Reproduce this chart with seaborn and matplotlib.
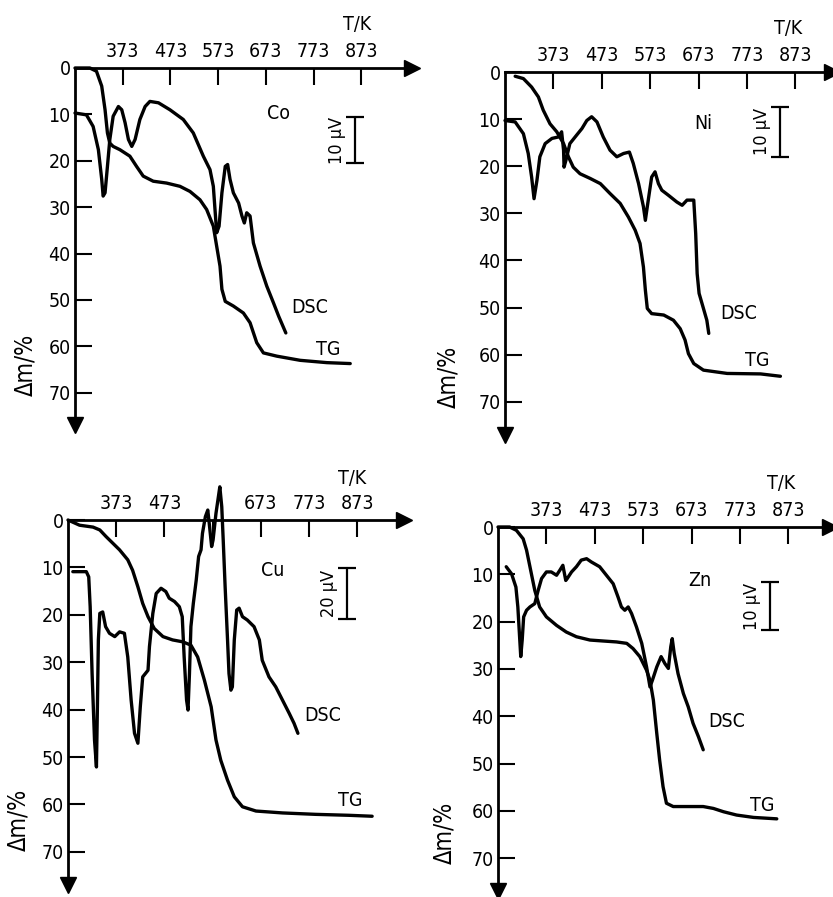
import matplotlib
matplotlib.use('Agg')
import matplotlib.pyplot as plt
import seaborn as sns

# ---- data (T in K, TG as mass loss in %, DSC in same y-units) ----
temp_ticks = [373, 473, 573, 673, 773, 873]
dm_ticks = [0, 10, 20, 30, 40, 50, 60, 70]

# Co
co_tg_T = [273, 304, 318, 329, 336, 341, 346, 353, 367, 388, 402, 416, 437, 465, 493, 514, 535, 549,
           563, 570, 577, 581, 588, 605, 626, 640, 654, 668, 696, 745, 801, 850]
co_tg_dm = [0, 0, 0.7, 3.9, 9.0, 14.0, 16.2, 16.9, 17.6, 19.0, 21.2, 23.3, 24.4, 24.8, 25.5, 26.6, 28.4, 30.5,
            34.1, 38.4, 42.7, 47.7, 50.3, 51.3, 52.8, 54.9, 59.2, 61.4, 62.1, 63.0, 63.5, 63.7]
co_dsc_T = [273, 297, 311, 322, 329, 332, 336, 341, 346, 353, 364, 371, 378, 385, 392, 399, 409, 420, 430,
            448, 472, 500, 521, 542, 556, 563, 567, 570, 575, 581, 588, 593, 598, 605, 616, 623, 628, 633,
            640, 647, 661, 675, 689, 700, 715]
co_dsc = [9.7, 10.1, 12.6, 17.6, 24.0, 27.6, 26.9, 21.2, 15.4, 10.4, 8.3, 9.0, 11.8, 15.4, 16.9, 15.4, 11.1,
          8.3, 7.2, 7.5, 9.0, 11.1, 14.0, 19.0, 21.9, 25.5, 31.2, 35.5, 34.1, 26.9, 21.2, 20.8, 24.0, 26.9,
          29.1, 31.9, 33.4, 31.2, 31.9, 37.7, 42.7, 47.0, 50.6, 53.5, 57.1]

# Ni
ni_tg_T = [294, 311, 328, 342, 352, 366, 380, 394, 404, 414, 428, 449, 470, 490, 511, 528, 542, 552, 559,
           563, 567, 576, 601, 621, 635, 645, 652, 663, 683, 732, 801, 842]
ni_tg_dm = [0.9, 1.4, 3.2, 5.3, 8.1, 11.0, 12.7, 15.2, 18.0, 20.2, 21.6, 22.6, 23.7, 25.8, 27.9, 30.8, 33.6,
            36.4, 41.4, 46.3, 50.2, 51.3, 51.6, 52.7, 54.5, 56.9, 59.8, 61.9, 63.3, 64.0, 64.1, 64.6]
ni_dsc_T = [273, 294, 311, 321, 328, 333, 339, 345, 356, 370, 383, 390, 394, 395, 399, 407, 421, 432, 442,
            452, 463, 476, 490, 504, 518, 530, 538, 549, 559, 563, 567, 576, 583, 590, 597, 611, 628, 639,
            649, 663, 667, 670, 674, 683, 690, 694]
ni_dsc = [10.3, 10.6, 13.1, 17.3, 22.3, 26.9, 23.0, 18.0, 15.2, 14.1, 13.8, 12.7, 16.6, 20.2, 18.7, 15.2,
          13.4, 12.0, 10.3, 9.5, 10.6, 13.8, 16.6, 18.0, 17.3, 17.0, 19.4, 23.7, 28.6, 31.5, 28.6, 22.3,
          21.2, 23.7, 25.1, 26.2, 27.6, 28.3, 27.2, 27.2, 34.3, 42.8, 47.0, 50.2, 52.7, 55.5]

# Cu
cu_tg_T = [273, 297, 325, 339, 352, 366, 380, 397, 407, 418, 428, 439, 452, 470, 490, 511, 528, 542, 556,
           570, 580, 590, 604, 618, 635, 663, 718, 787, 856, 904]
cu_tg_dm = [0, 1.1, 1.5, 2.1, 3.5, 4.9, 6.3, 8.4, 10.6, 14.1, 17.6, 20.4, 22.9, 24.6, 25.3, 25.7, 26.4,
            28.9, 33.8, 39.4, 46.4, 50.7, 54.9, 58.4, 60.5, 61.4, 61.8, 62.1, 62.3, 62.5]
cu_dsc_T = [283, 311, 316, 319, 323, 328, 332, 334, 336, 339, 345, 351, 359, 370, 380, 390, 397, 404, 411,
            418, 423, 428, 439, 442, 449, 456, 466, 476, 483, 494, 504, 510, 514, 519, 522, 525, 528, 533,
            539, 544, 549, 552, 558, 563, 566, 571, 574, 580, 585, 588, 592, 595, 599, 604, 607, 611, 614,
            618, 623, 628, 635, 645, 659, 670, 676, 690, 704, 718, 732, 742, 750]
cu_dsc = [10.9, 10.9, 12.0, 18.3, 32.4, 46.4, 52.1, 39.4, 25.3, 19.7, 19.4, 22.5, 23.9, 24.6, 23.6, 23.9,
          28.9, 38.0, 45.0, 47.1, 39.4, 33.1, 31.7, 26.7, 19.7, 15.5, 14.4, 15.1, 16.5, 17.2, 18.3, 20.4,
          28.9, 38.0, 40.1, 32.4, 22.5, 17.6, 12.7, 7.7, 6.3, 2.8, -0.7, -2.1, 0.7, 5.6, 4.2, -1.4, -4.9,
          -7.0, -2.8, 4.2, 14.1, 25.3, 32.4, 35.9, 35.2, 25.3, 19.0, 18.6, 20.4, 21.1, 22.5, 25.3, 29.6,
          33.1, 35.2, 38.0, 40.8, 42.9, 45.0]

# Zn
zn_tg_T = [273, 297, 311, 325, 332, 339, 349, 359, 373, 394, 414, 435, 463, 490, 518, 539, 552, 566, 580,
           587, 594, 601, 607, 614, 621, 635, 663, 697, 718, 739, 766, 801, 849]
zn_tg_dm = [0, 0, 0.7, 2.5, 4.9, 8.4, 13.4, 16.9, 19.0, 20.8, 22.2, 23.2, 23.9, 24.1, 24.3, 24.6, 25.7,
            27.4, 30.3, 32.4, 36.6, 43.6, 49.3, 54.9, 58.4, 59.1, 59.1, 59.1, 59.5, 60.2, 60.9, 61.4, 61.7]
zn_dsc_T = [290, 301, 310, 314, 318, 320, 323, 326, 332, 339, 349, 356, 363, 373, 383, 394, 401, 407, 413,
            416, 425, 435, 445, 456, 466, 483, 497, 511, 521, 528, 535, 542, 549, 559, 570, 580, 587, 592,
            601, 610, 618, 625, 630, 633, 637, 645, 656, 666, 676, 687, 697]
zn_dsc = [8.4, 9.9, 12.7, 16.9, 23.9, 27.4, 23.9, 19.0, 17.6, 16.9, 16.2, 13.4, 10.9, 9.5, 9.5, 10.2, 9.1,
          8.1, 11.3, 10.9, 9.5, 8.4, 7.0, 6.7, 7.4, 8.4, 10.2, 12.0, 14.8, 16.9, 17.6, 16.9, 18.3, 21.1,
          24.6, 29.6, 33.8, 32.4, 29.6, 27.4, 28.9, 29.9, 25.3, 23.6, 26.7, 31.0, 35.2, 38.0, 41.5, 44.3, 47.1]

metals = ['Co', 'Ni', 'Cu', 'Zn']
scale_bars = ['10 µV', '10 µV', '20 µV', '10 µV']

# ---- drawing ----
sns.set_style('white')
plt.rcParams['font.family'] = ['DejaVu Sans']
plt.rcParams['font.stretch'] = 'condensed'
plt.rcParams['text.color'] = 'k'
plt.rcParams['xtick.color'] = 'k'
plt.rcParams['ytick.color'] = 'k'

W, H = 833, 897
fig = plt.figure(figsize=(W / 100, H / 100), dpi=100)

T0, T1 = 150, 990
Y0, Y1 = -12, 80
FS = 14
LW = 2.4


def panel(origin, kx, ky, tg, dsc, metal, bar_text, xend, yend, lab):
    ox, oy = origin
    left = ox - (273 - T0) * kx
    top = oy + Y0 * ky
    w = (T1 - T0) * kx
    h = (Y1 - Y0) * ky
    ax = fig.add_axes([left / W, 1 - (top + h) / H, w / W, h / H])
    ax.set_xlim(T0, T1)
    ax.set_ylim(Y1, Y0)
    ax.patch.set_alpha(0)

    for xs, ys in (tg, dsc):
        sns.lineplot(x=xs, y=ys, ax=ax, sort=False, estimator=None, color='k', lw=LW,
                     solid_joinstyle='round', solid_capstyle='round')

    for s in ['right', 'bottom']:
        ax.spines[s].set_visible(False)
    ax.spines['left'].set_position(('data', 273))
    ax.spines['left'].set_bounds(0, yend)
    ax.spines['top'].set_position(('data', 0))
    ax.spines['top'].set_bounds(273, xend)
    for s in ['left', 'top']:
        ax.spines[s].set_linewidth(2)
        ax.spines[s].set_color('k')
    ax.plot(xend, 0, marker='>', ms=11, color='k', clip_on=False)
    ax.plot(273, yend, marker='v', ms=11, color='k', clip_on=False)

    ax.xaxis.set_ticks_position('top')
    ax.yaxis.set_ticks_position('left')
    ax.set_xticks(temp_ticks)
    ax.set_xticklabels([str(t) if not (metal == 'Cu' and t == 573) else '' for t in temp_ticks])
    ax.set_yticks(dm_ticks)
    ax.set_yticklabels([str(v) for v in dm_ticks])
    ax.tick_params(axis='x', direction='in', length=12, width=1.5, pad=5, labelsize=FS)
    ax.tick_params(axis='y', direction='in', length=12, width=1.5, pad=3, labelsize=FS)
    ax.set_xlabel('')
    ax.set_ylabel('')

    ax.text(lab['tk'][0], lab['tk'][1], 'T/K', fontsize=FS, ha='center', va='center')
    ax.text(lab['m'][0], lab['m'][1], metal, fontsize=FS, ha='center', va='center')
    ax.text(lab['dsc'][0], lab['dsc'][1], 'DSC', fontsize=FS, ha='center', va='center')
    ax.text(lab['tg'][0], lab['tg'][1], 'TG', fontsize=FS, ha='center', va='center')
    ax.text(lab['yl'][0], lab['yl'][1], 'Δm/%', fontsize=FS + 3, ha='center', va='center', rotation=90)

    bx, b0, b1 = lab['bar']
    ax.plot([bx, bx], [b0, b1], color='k', lw=1.6)
    ax.plot([bx, bx], [b0, b1], ls='none', marker='_', ms=13, mew=1.6, color='k')
    ax.text(bx - 38, (b0 + b1) / 2, bar_text, fontsize=FS - 1, ha='center', va='center', rotation=90)
    return ax


panel((75, 68), 0.477, 4.64, (co_tg_T, co_tg_dm), (co_dsc_T, co_dsc), metals[0], scale_bars[0], 979, 77,
      dict(tk=(864, -9.3), m=(700, 9.7), dsc=(766, 51.7), tg=(804, 60.7), yl=(168, 64), bar=(860, 10.6, 20.5)))
panel((505, 72), 0.484, 4.71, (ni_tg_T, ni_tg_dm), (ni_dsc_T, ni_dsc), metals[1], scale_bars[1], 949, 77,
      dict(tk=(859, -9.2), m=(683, 11.0), dsc=(756, 51.3), tg=(794, 61.2), yl=(156, 64.7), bar=(842, 7.4, 18.0)))
panel((68, 520), 0.482, 4.74, (cu_tg_T, cu_tg_dm), (cu_dsc_T, cu_dsc), metals[2], scale_bars[2], 970, 77,
      dict(tk=(863, -8.8), m=(697, 10.6), dsc=(801, 41.2), tg=(859, 59.1), yl=(170, 63.3), bar=(852, 10.2, 20.8)))
panel((498, 527), 0.484, 4.73, (zn_tg_T, zn_tg_dm), (zn_dsc_T, zn_dsc), metals[3], scale_bars[3], 959, 77,
      dict(tk=(859, -9.1), m=(690, 11.3), dsc=(745, 41.2), tg=(818, 58.8), yl=(163, 64.7), bar=(835, 11.6, 21.8)))

fig.savefig('out.png', dpi=100)
